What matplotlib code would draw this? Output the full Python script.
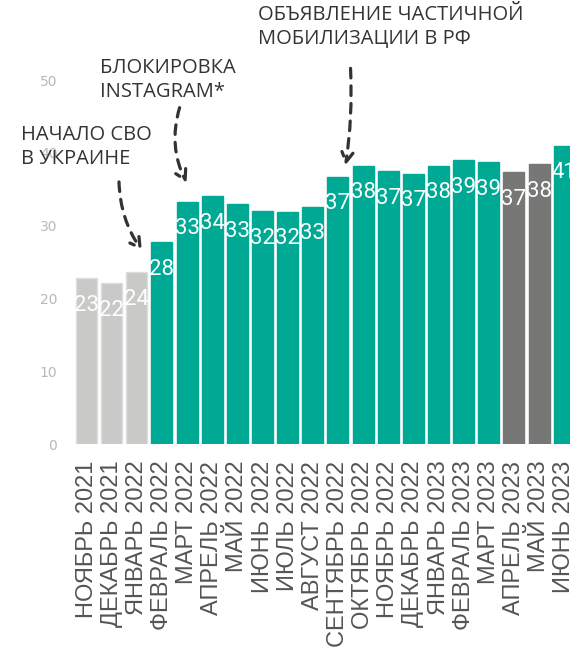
import numpy as np
import matplotlib.pyplot as plt

months = ["НОЯБРЬ 2021", "ДЕКАБРЬ 2021", "ЯНВАРЬ 2022", "ФЕВРАЛЬ 2022",
          "МАРТ 2022", "АПРЕЛЬ 2022", "МАЙ 2022", "ИЮНЬ 2022", "ИЮЛЬ 2022",
          "АВГУСТ 2022", "СЕНТЯБРЬ 2022", "ОКТЯБРЬ 2022", "НОЯБРЬ 2022",
          "ДЕКАБРЬ 2022", "ЯНВАРЬ 2023", "ФЕВРАЛЬ 2023", "МАРТ 2023",
          "АПРЕЛЬ 2023", "МАЙ 2023", "ИЮНЬ 2023"]
values = [22.8, 22.1, 23.6, 27.7, 33.3, 34.0, 32.9, 32.0, 31.9, 32.6,
          36.7, 38.2, 37.5, 37.1, 38.2, 39.0, 38.7, 37.3, 38.4, 41.0]
labels = [23, 22, 24, 28, 33, 34, 33, 32, 32, 33,
          37, 38, 37, 37, 38, 39, 39, 37, 38, 41]
# 0 = before, 1 = main period, 2 = dark months
groups = [0, 0, 0, 1, 1, 1, 1, 1, 1, 1, 1, 1, 1, 1, 1, 1, 1, 2, 2, 1]

colors = {0: "#c9c9c7", 1: "#00a994", 2: "#777776"}
edges = {0: "#dedede", 1: "#00a994", 2: "#777776"}

fig = plt.figure(figsize=(5.7, 6.54), dpi=100)
ax = fig.add_axes([74 / 570, 210 / 654, 502.8 / 570, 364 / 654])

x = np.arange(len(values))
ax.bar(x, values, width=0.835, color=[colors[g] for g in groups],
       edgecolor=[edges[g] for g in groups], linewidth=1)

for i, v in enumerate(values):
    ax.annotate(str(labels[i]), (i, v), xytext=(0, -19.5), textcoords="offset points",
                ha="center", va="center", color="white", fontsize=16,
                family="Roboto", fontweight="normal")

ax.set_xlim(-0.5, 19.5)
ax.set_ylim(0, 50)
ax.set_yticks([0, 10, 20, 30, 40, 50])
ax.tick_params(axis="y", length=0, pad=12, labelsize=10, labelcolor="#b8b8b8")
ax.set_xticks(x)
ax.set_xticklabels(months, rotation=90, family="Liberation Sans", fontsize=17,
                   color="#555555")
ax.tick_params(axis="x", length=0, pad=12)
for s in ax.spines.values():
    s.set_visible(False)

txt = dict(fontsize=14.5, family="Open Sans", color="#333333", va="top", ha="left",
           linespacing=1.25, annotation_clip=False)
arrow = dict(arrowstyle="->,head_length=0.7,head_width=0.4", color="#333333",
             lw=2.3, linestyle=(0, (3, 2.5)), shrinkA=0, shrinkB=0)

ax.annotate("НАЧАЛО СВО\nВ УКРАИНЕ", (-2.6, 43.8), **txt)
ax.annotate("", xy=(2.2, 26.6), xytext=(1.29, 36.0), annotation_clip=False,
            arrowprops=dict(connectionstyle="arc3,rad=0.15", **arrow))

ax.annotate("БЛОКИРОВКА\nINSTAGRAM*", (0.55, 53.0), **txt)
ax.annotate("", xy=(3.98, 35.9), xytext=(3.7, 46.2), annotation_clip=False,
            arrowprops=dict(connectionstyle="arc3,rad=0.2", **arrow))

ax.annotate("ОБЪЯВЛЕНИЕ ЧАСТИЧНОЙ\nМОБИЛИЗАЦИИ В РФ", (6.8, 60.3), **txt)
ax.annotate("", xy=(10.3, 38.3), xytext=(10.5, 51.6), annotation_clip=False,
            arrowprops=dict(connectionstyle="arc3,rad=-0.05", **arrow))

fig.savefig("out.png", dpi=100)
